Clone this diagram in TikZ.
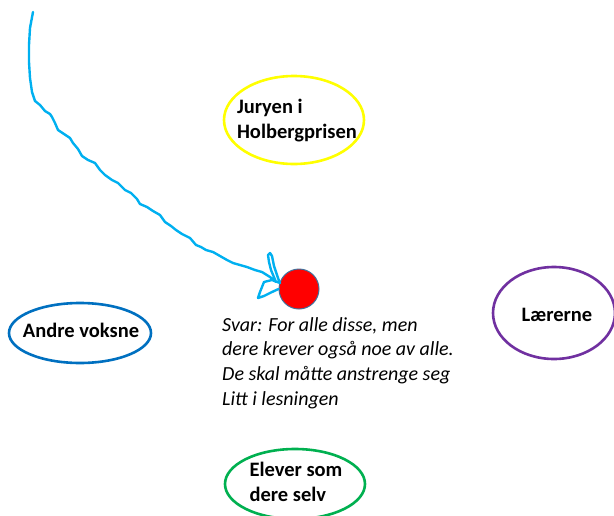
\documentclass[tikz,border=0pt]{standalone}
\usepackage{fontspec}
\setmainfont{Carlito}
\usetikzlibrary{shapes.geometric}
\definecolor{cyanline}{HTML}{00B0F0}
\definecolor{ylw}{HTML}{FFFF00}
\definecolor{blu}{HTML}{0070C0}
\definecolor{prp}{HTML}{7030A0}
\definecolor{grn}{HTML}{00B050}
\definecolor{dotedge}{HTML}{41719C}
\tikzset{
  oval/.style={ellipse, draw, line width=2.6pt, fill=white, inner sep=0pt},
  ovaltext/.style={inner sep=0pt, font=\fontsize{20.5}{25}\selectfont\bfseries, align=left},
  hand/.style={font=\fontsize{20}{24.7}\selectfont\itshape, align=left, inner sep=0pt, anchor=north west}
}
\begin{document}
\begin{tikzpicture}[x=1pt,y=-1pt]
\useasboundingbox (0,0) rectangle (614,515);
\node[oval, draw=ylw, minimum width=140pt, minimum height=88pt] (jury) at (294,120) {};
\node[ovaltext] (juryt) at (297,121) {Juryen i\\Holbergprisen};
\node[oval, draw=blu, minimum width=142pt, minimum height=60pt] (andre) at (80,333) {};
\node[ovaltext] (andret) at (81,330) {Andre voksne};
\node[oval, draw=prp, minimum width=122pt, minimum height=92pt] (laer) at (554,313) {};
\node[ovaltext] (laert) at (557,315) {Lærerne};
\node[oval, draw=grn, minimum width=140pt, minimum height=70pt] (elev) at (295,484) {};
\node[ovaltext] (elevt) at (296,482) {Elever som\\dere selv};
\node[circle, draw=dotedge, line width=1pt, fill=red, minimum size=40pt, inner sep=0pt] (dot) at (299,289) {};
\coordinate (start) at (33,12);
\draw[cyanline, line width=2.4pt, line join=round, line cap=round]
  (start) -- (30,28) -- (29,45) -- (29,62) -- (30,78) -- (32,92) -- (35,101) -- (40,105) -- (45,111) -- (50,114) -- (52,117)
  -- (55,123) -- (58,130) -- (64,134) -- (70,138) -- (73,143) -- (78,149) -- (82,156) -- (88,160) -- (95,163)
  -- (100,170) -- (105,175) -- (112,180) -- (118,183) -- (125,190) -- (131,193) -- (137,199) -- (140,204)
  -- (147,207) -- (153,211) -- (160,215) -- (165,222) -- (171,226) -- (176,230) -- (182,234) -- (190,238)
  -- (196,245) -- (201,247) -- (206,250) -- (213,252) -- (220,256) -- (227,260) -- (233,263) -- (240,265)
  -- (247,267) -- (255,270) -- (262,272) -- (270,277) -- (276,282) -- (271,270) -- (269,262) -- (268,255)
  -- (270,253) -- (272,256) -- (274,266) -- (278,278) -- (280,283) -- (272,280) -- (264,282) -- (260,292)
  -- (258,298) -- (264,296) -- (272,292) -- (dot.west);
\node[hand] (svar) at (222,317) {Svar: For alle disse, men\\dere krever også noe av alle.\\De skal måtte anstrenge seg\\Litt i lesningen};
\end{tikzpicture}
\end{document}
